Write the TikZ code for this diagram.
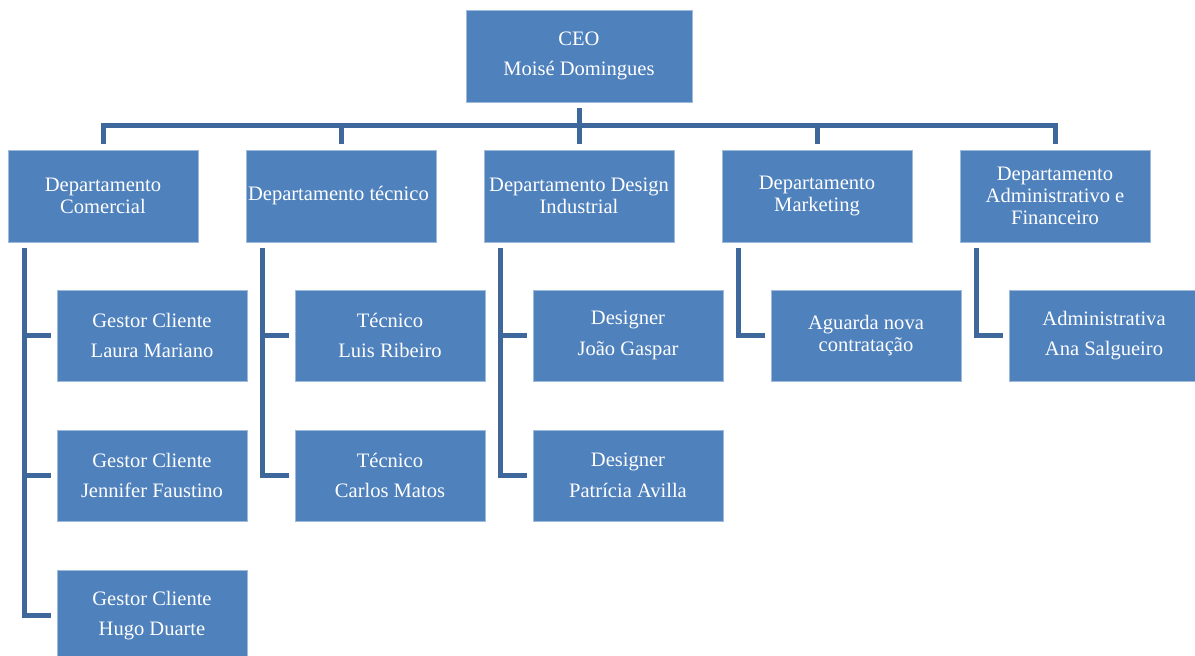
\documentclass[tikz,border=0pt]{standalone}
\usepackage{fontspec}
\setmainfont{Liberation Serif}
\usetikzlibrary{positioning,calc}
\definecolor{boxblue}{HTML}{4F81BD}
\definecolor{lineblue}{HTML}{3E679C}
\def\boxwid{142.5pt}
\def\boxhgt{69pt}
\def\chartvgap{36pt}
\def\charthgap{36pt}
\def\childgap{36.75pt}
\def\spinex{12pt}
\def\linegap{4.5pt}

\begin{document}
\begin{tikzpicture}[
            x=0.75pt, y=-0.75pt,
            head/.style={%
                rectangle, minimum width=169.5pt, minimum height=\boxhgt,%
                fill=boxblue, draw=boxblue!55!white, line width=0.4pt,%
                text=white, align=center, inner xsep=0pt, inner ysep=1pt,%
                outer sep=0pt, font=\fontsize{15.4}{22.5}\selectfont%
            },
            dept/.style={%
                head, minimum width=\boxwid,%
                font=\fontsize{15.4}{16.5}\selectfont%
            },
            member/.style={%
                dept, minimum height=68.25pt,%
                font=\fontsize{15.4}{23}\selectfont%
            },
            link/.style={draw=lineblue, line width=3.75pt}
        ]
        \useasboundingbox (0,0) rectangle (1195,656);

        % Define nodes
        \node (dep1) [dept] at (103,196) {%
            Departamento\\Comercial
        };
        \node (dep2) [dept, right=\charthgap of dep1] {%
            Departamento técnico
        };
        \node (dep3) [dept, right=\charthgap of dep2] {%
            Departamento Design\\Industrial
        };
        \node (dep4) [dept, right=\charthgap of dep3] {%
            Departamento\\Marketing
        };
        \node (dep5) [dept, right=\charthgap of dep4] {%
            Departamento\\Administrativo e\\Financeiro
        };

        \node (ceo) [head, above=\chartvgap of dep3] {%
            CEO\\Moisé Domingues
        };

        \node (com1) [member, below=\chartvgap of dep1, xshift=\childgap] {%
            Gestor Cliente\\Laura Mariano
        };
        \node (com2) [member, below=\childgap of com1] {%
            Gestor Cliente\\Jennifer Faustino
        };
        \node (com3) [member, below=\childgap of com2] {%
            Gestor Cliente\\Hugo Duarte
        };

        \node (tec1) [member, below=\chartvgap of dep2, xshift=\childgap] {%
            Técnico\\Luis Ribeiro
        };
        \node (tec2) [member, below=\childgap of tec1] {%
            Técnico\\Carlos Matos
        };

        \node (des1) [member, below=\chartvgap of dep3, xshift=\childgap] {%
            Designer\\João Gaspar
        };
        \node (des2) [member, below=\childgap of des1] {%
            Designer\\Patrícia Avilla
        };

        \node (mkt1) [
                member, below=\chartvgap of dep4, xshift=\childgap,
                font=\fontsize{15.4}{16.5}\selectfont
            ] {%
            Aguarda nova\\contratação
        };

        \node (adm1) [member, below=\chartvgap of dep5, xshift=\childgap] {%
            Administrativa\\Ana Salgueiro
        };

        % Top bus
        \path
            (ceo.south) -- (dep3.north) coordinate[midway] (bus);
        \draw [link] ([yshift=-\linegap]ceo.south) -- ([yshift=\linegap]dep3.north);
        \draw [link] ([yshift=\linegap]dep1.north) |- (bus) -| ([yshift=\linegap]dep5.north);
        \foreach \d in {dep2,dep4}
            \draw [link] (\d.north |- bus) -- ([yshift=\linegap]\d.north);

        % Spines
        \coordinate (spine1) at ([xshift=\spinex, yshift=-\linegap]dep1.south west);
        \coordinate (spine2) at ([xshift=\spinex, yshift=-\linegap]dep2.south west);
        \coordinate (spine3) at ([xshift=\spinex, yshift=-\linegap]dep3.south west);
        \coordinate (spine4) at ([xshift=\spinex, yshift=-\linegap]dep4.south west);
        \coordinate (spine5) at ([xshift=\spinex, yshift=-\linegap]dep5.south west);

        \draw [link] (spine1) |- ([xshift=-\linegap]com3.west);
        \draw [link] (spine1 |- com1.west) -- ([xshift=-\linegap]com1.west);
        \draw [link] (spine1 |- com2.west) -- ([xshift=-\linegap]com2.west);

        \draw [link] (spine2) |- ([xshift=-\linegap]tec2.west);
        \draw [link] (spine2 |- tec1.west) -- ([xshift=-\linegap]tec1.west);

        \draw [link] (spine3) |- ([xshift=-\linegap]des2.west);
        \draw [link] (spine3 |- des1.west) -- ([xshift=-\linegap]des1.west);

        \draw [link] (spine4) |- ([xshift=-\linegap]mkt1.west);
        \draw [link] (spine5) |- ([xshift=-\linegap]adm1.west);

        \end{tikzpicture}
\end{document}
